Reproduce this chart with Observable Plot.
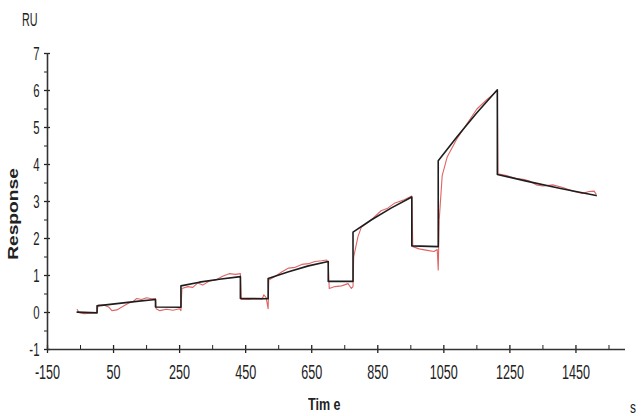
<!DOCTYPE html>
<html><head><meta charset="utf-8">
<script src="https://cdn.jsdelivr.net/npm/d3@7"></script>
<script src="https://cdn.jsdelivr.net/npm/@observablehq/plot@0.6"></script>
<style>
body{margin:0;background:#fff;}
#wrap{position:relative;width:642px;height:416px;font-family:"Liberation Sans",Arial,sans-serif;color:#222;overflow:hidden;}
.lab{position:absolute;white-space:nowrap;line-height:1;}
</style></head><body><div id="wrap"></div>
<script>
// Fitted curve (black)
const fitTime = [-60,0,0,60,120,177,177,254,254,310,370,434,434,518,518,580,640,700,700,775,775,830,890,953,953,1033,1033,1090,1150,1212,1212,1300,1400,1511];
const fitRU   = [0.01,-0.01,0.18,0.24,0.30,0.35,0.15,0.14,0.72,0.82,0.90,0.97,0.38,0.37,0.92,1.10,1.26,1.38,0.84,0.84,2.17,2.50,2.82,3.12,1.80,1.78,4.10,4.75,5.40,6.02,3.73,3.55,3.36,3.16];
// Measured response (red)
const rawTime = [-60,-55,-40,-20,0,3,20,35,45,60,75,95,110,120,135,150,165,177,179,190,210,230,250,254,257,275,290,305,320,340,360,380,400,420,434,437,460,480,500,505,512,518,520,540,560,580,600,620,640,660,680,695,700,703,720,740,760,770,775,777,790,800,830,860,880,900,930,953,956,975,1000,1020,1030,1033,1036,1045,1060,1090,1120,1150,1180,1200,1212,1214,1240,1270,1290,1310,1330,1350,1380,1410,1440,1470,1490,1505,1511];
const rawRU   = [0.08,0.00,-0.03,-0.02,0.00,0.20,0.20,0.15,0.05,0.07,0.15,0.25,0.30,0.38,0.35,0.40,0.37,0.38,0.10,0.05,0.09,0.06,0.10,0.05,0.65,0.70,0.68,0.80,0.74,0.85,0.88,0.98,1.05,1.03,1.05,0.35,0.35,0.37,0.36,0.48,0.40,0.10,0.88,0.98,1.10,1.20,1.22,1.30,1.32,1.38,1.40,1.42,1.35,0.65,0.70,0.72,0.78,0.65,0.70,1.50,2.05,2.30,2.50,2.75,2.82,2.95,3.05,3.15,1.78,1.72,1.68,1.65,1.70,1.15,2.50,3.70,4.20,4.70,5.10,5.50,5.75,5.90,6.00,3.75,3.70,3.62,3.60,3.55,3.45,3.42,3.45,3.38,3.28,3.22,3.27,3.28,3.20];
const xTicks = [-150,50,250,450,650,850,1050,1250,1450];
const xMinor = [-50,150,350,550,750,950,1150,1350,1550];
const yTicks = [-1,0,1,2,3,4,5,6,7];
const yMinor = [-0.5,0.5,1.5,2.5,3.5,4.5,5.5,6.5];

const fit = fitTime.map((t,i)=>({t, v:fitRU[i]}));
const raw = rawTime.map((t,i)=>({t, v:rawRU[i]}));
const font = '"Liberation Sans",Arial,sans-serif';

const chart = Plot.plot({
  width:642, height:416,
  marginLeft:47, marginRight:17, marginTop:53, marginBottom:67,
  x:{domain:[-150,1600]},
  y:{domain:[-1,7]},
  style:{fontFamily:font, fontSize:"19px", color:"#222", background:"white"},
  marks:[
    Plot.axisX({ticks:xTicks, tickSize:0, tickPadding:15, tickFormat:d=>String(d), label:null, fontSize:21}),
    Plot.axisX({ticks:xTicks, tickSize:8, dy:-4, text:null, label:null, strokeWidth:1.3}),
    Plot.axisX({ticks:xMinor, tickSize:4, dy:-4, text:null, label:null}),
    Plot.axisY({ticks:yTicks, tickSize:0, tickPadding:8, tickFormat:d=>String(d), label:null, fontSize:19}),
    Plot.axisY({ticks:yTicks, tickSize:6, dx:3, text:null, label:null, strokeWidth:1.3}),
    Plot.axisY({ticks:yMinor, tickSize:3, text:null, label:null}),
    Plot.ruleX([-150], {stroke:"#333", strokeWidth:1.6}),
    Plot.ruleY([-1], {stroke:"#333", strokeWidth:1.6}),
    Plot.line(raw, {x:"t", y:"v", stroke:"#e06464", strokeWidth:1.1}),
    Plot.line(fit, {x:"t", y:"v", stroke:"#1e1e1e", strokeWidth:1.6})
  ]
});
// condense tick label glyphs (narrow font look)
chart.querySelectorAll('g[aria-label$="tick label"] text').forEach(t => {
  let tr = t.getAttribute("transform");
  if (!tr) {
    const x = t.getAttribute("x") || 0, y = t.getAttribute("y") || 0;
    t.removeAttribute("x"); t.removeAttribute("y");
    tr = `translate(${x},${y})`;
  }
  t.setAttribute("transform", tr + " scale(0.6,1)");
});
const wrap = document.getElementById("wrap");
wrap.appendChild(chart);
function lab(txt, css){const d=document.createElement("div");d.className="lab";d.textContent=txt;Object.assign(d.style,css);wrap.appendChild(d);return d;}
lab("RU",{left:"22px",top:"11px",fontSize:"18px",transform:"scaleX(0.6)",transformOrigin:"left top"});
lab("Response",{left:"13px",top:"214px",fontSize:"14px",fontWeight:"bold",transform:"translate(-50%,-50%) rotate(-90deg) scaleX(1.37)"});
lab("Tim e",{left:"308px",top:"396px",fontSize:"16.5px",fontWeight:"bold",transform:"scaleX(0.76)",transformOrigin:"left top"});
lab("s",{left:"630px",top:"399px",fontSize:"17px",transform:"scaleX(0.7)",transformOrigin:"left top"});
</script></body></html>
